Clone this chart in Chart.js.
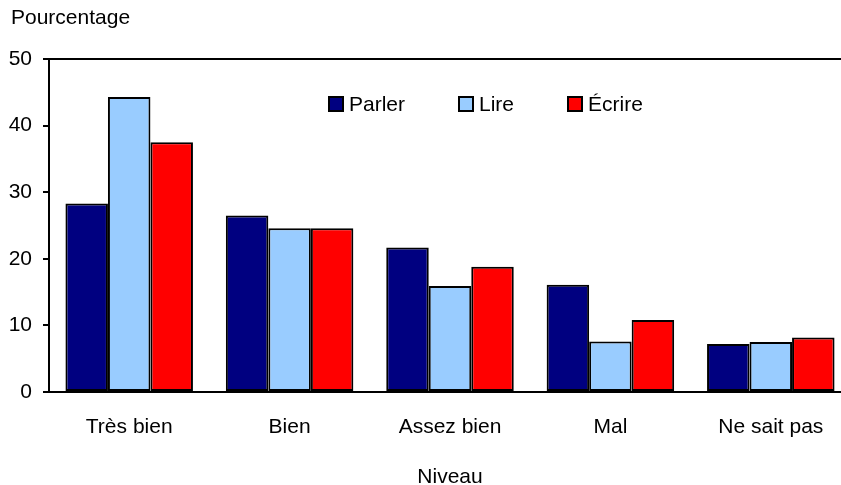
<!DOCTYPE html>
<html>
<head>
<meta charset="utf-8">
<script src="https://cdn.jsdelivr.net/npm/chart.js@4/dist/chart.umd.min.js"></script>
<style>
  html, body { margin: 0; padding: 0; background: #fff; overflow: hidden; }
  canvas { display: block; }
</style>
</head>
<body>
<canvas id="chart" width="851" height="485"></canvas>
<script>
// data
const niveaux = ['Très bien', 'Bien', 'Assez bien', 'Mal', 'Ne sait pas'];
const parler = [28.3, 26.5, 21.7, 16.1, 7.2];
const lire = [44.3, 24.6, 15.9, 7.6, 7.5];
const ecrire = [37.5, 24.6, 18.8, 10.8, 8.2];
const yTicks = [0, 10, 20, 30, 40, 50];

const FONT = '"Liberation Sans", Arial, Helvetica, sans-serif';
const SIZE = 21;

// top frame line, y axis title and the legend
const decor = {
  id: 'decor',
  afterDraw(chart) {
    const ctx = chart.ctx;
    const area = chart.chartArea;
    ctx.save();
    ctx.strokeStyle = '#000';
    ctx.lineWidth = 2;
    ctx.beginPath();
    ctx.moveTo(area.left - 1, area.top);
    ctx.lineTo(area.right, area.top);
    ctx.stroke();

    ctx.fillStyle = '#000';
    ctx.font = SIZE + 'px ' + FONT;
    ctx.textBaseline = 'middle';
    ctx.textAlign = 'left';
    ctx.fillText('Pourcentage', 11, 18);

    // legend
    const legendX = [329, 459, 568];
    const legendY = 104;
    chart.data.datasets.forEach((ds, i) => {
      const x = legendX[i];
      ctx.fillStyle = ds.backgroundColor;
      ctx.fillRect(x, legendY - 7, 14, 14);
      ctx.lineWidth = 2;
      ctx.strokeStyle = '#000';
      ctx.strokeRect(x, legendY - 7, 14, 14);
      ctx.fillStyle = '#000';
      ctx.fillText(ds.label, x + 20, legendY + 1);
    });
    ctx.restore();
  }
};

new Chart(document.getElementById('chart'), {
  type: 'bar',
  data: {
    labels: niveaux,
    datasets: [
      { label: 'Parler', data: parler, backgroundColor: '#000080' },
      { label: 'Lire', data: lire, backgroundColor: '#99ccff' },
      { label: 'Écrire', data: ecrire, backgroundColor: '#ff0000' }
    ]
  },
  options: {
    responsive: false,
    animation: false,
    devicePixelRatio: 1,
    layout: { padding: { top: 59, right: 0, left: 0, bottom: 0 } },
    datasets: {
      bar: {
        categoryPercentage: 0.795,
        barPercentage: 1,
        borderColor: '#000',
        borderWidth: 2,
        borderSkipped: false
      }
    },
    plugins: {
      legend: { display: false },
      tooltip: { enabled: false }
    },
    scales: {
      x: {
        grid: { display: false },
        border: { display: true, color: '#000', width: 2 },
        ticks: { color: '#000', font: { family: FONT, size: SIZE }, padding: 15, maxRotation: 0 },
        title: {
          display: true,
          text: 'Niveau',
          color: '#000',
          font: { family: FONT, size: SIZE },
          padding: { top: 0, bottom: -5 }
        },
        afterFit(scale) { scale.height = 93; }
      },
      y: {
        min: 0,
        max: 50,
        afterBuildTicks(scale) { scale.ticks = yTicks.map(v => ({ value: v })); },
        grid: { drawOnChartArea: false, drawTicks: true, tickLength: 6, color: '#000', lineWidth: 2 },
        border: { display: true, color: '#000', width: 2 },
        ticks: { color: '#000', font: { family: FONT, size: SIZE }, padding: 11 },
        afterFit(scale) { scale.width = 49; }
      }
    }
  },
  plugins: [decor]
});
</script>
</body>
</html>
